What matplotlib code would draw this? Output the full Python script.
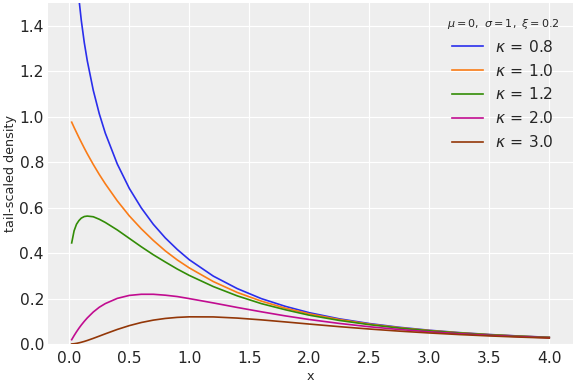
import matplotlib
matplotlib.use("Agg")
from matplotlib import pyplot as plt

# === Data ===
x = [0.02, 0.04, 0.06, 0.08, 0.10, 0.125, 0.15, 0.2, 0.25, 0.3, 0.4, 0.5, 0.6, 0.7,
     0.8, 0.9, 1.0, 1.2, 1.4, 1.6, 1.8, 2.0, 2.25, 2.5, 2.75, 3.0, 3.25, 3.5, 3.75, 4.0]

dens_k08 = [2.140, 1.823, 1.646, 1.521, 1.424, 1.326, 1.246, 1.116, 1.013, 0.928, 0.792,
            0.685, 0.599, 0.527, 0.467, 0.416, 0.371, 0.299, 0.244, 0.200, 0.166, 0.138,
            0.111, 0.0903, 0.0738, 0.0608, 0.0504, 0.0420, 0.0353, 0.0297]
dens_k10 = [0.976, 0.953, 0.931, 0.909, 0.888, 0.862, 0.837, 0.790, 0.746, 0.705, 0.630,
            0.564, 0.507, 0.456, 0.410, 0.370, 0.335, 0.275, 0.227, 0.189, 0.158, 0.133,
            0.108, 0.0878, 0.0721, 0.0596, 0.0496, 0.0414, 0.0348, 0.0294]
dens_k12 = [0.445, 0.498, 0.527, 0.543, 0.554, 0.561, 0.563, 0.560, 0.549, 0.535, 0.502,
            0.465, 0.428, 0.393, 0.361, 0.330, 0.302, 0.253, 0.212, 0.178, 0.151, 0.127,
            0.104, 0.0854, 0.0704, 0.0584, 0.0487, 0.0408, 0.0344, 0.0291]
dens_k20 = [0.0193, 0.0372, 0.0539, 0.0694, 0.0837, 0.100, 0.115, 0.141, 0.162, 0.178,
            0.201, 0.214, 0.219, 0.219, 0.215, 0.209, 0.200, 0.181, 0.161, 0.142, 0.124,
            0.108, 0.0908, 0.0762, 0.0641, 0.0539, 0.0455, 0.0385, 0.0327, 0.0278]
dens_k30 = [0.0004, 0.0015, 0.0031, 0.0053, 0.0079, 0.0116, 0.0158, 0.0251, 0.0350,
            0.0450, 0.0643, 0.0811, 0.0948, 0.1053, 0.1127, 0.1174, 0.1198, 0.1194,
            0.1143, 0.1065, 0.0974, 0.0880, 0.0766, 0.0662, 0.0569, 0.0488, 0.0418,
            0.0358, 0.0307, 0.0264]

kappas = ["0.8", "1.0", "1.2", "2.0", "3.0"]
curves = [dens_k08, dens_k10, dens_k12, dens_k20, dens_k30]
colors = ["#2a2eec", "#fa7c17", "#328c06", "#c10c90", "#933708"]

# === Plot ===
fig, ax = plt.subplots(figsize=(7.2, 4.8), dpi=80)
fig.subplots_adjust(left=0.083, right=0.995, top=0.992, bottom=0.104)
ax.set_facecolor("#eeeeee")
for s in ax.spines.values():
    s.set_visible(False)
ax.grid(True, color="white", linewidth=1.1)
ax.set_axisbelow(True)
ax.tick_params(length=0, labelsize=14, labelcolor="#262626")
ax.tick_params(axis="x", pad=6)
ax.tick_params(axis="y", pad=3.5)

for y, k, c in zip(curves, kappas, colors):
    ax.plot(x, y, color=c, lw=1.5, label=rf"$\kappa\,=\,{k}$")

ax.set_ylim(0, 1.5)
ax.set_xlabel("x", fontsize=11.5, color="#262626")
ax.set_ylabel("tail-scaled density", fontsize=11.5, color="#262626", labelpad=2)

leg = ax.legend(title=r"$\mu=0,\ \sigma=1,\ \xi=0.2$", fontsize=14, title_fontsize=10,
                frameon=False, loc="upper right", labelspacing=0.5)
for t in leg.get_texts():
    t.set_color("#262626")
leg.get_title().set_color("#262626")

fig.savefig("out.png", dpi=80)
plt.close(fig)
